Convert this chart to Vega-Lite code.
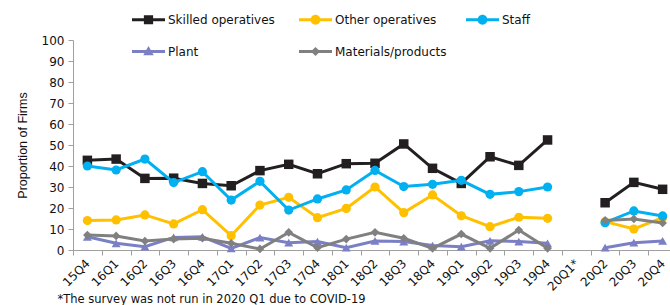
{
  "$schema": "https://vega.github.io/schema/vega-lite/v6.json",
  "width": 597,
  "height": 210,
  "autosize": {"type": "none"},
  "padding": {"left": 73, "top": 40, "right": 0, "bottom": 55},
  "background": "white",
  "config": {
    "view": {"stroke": null},
    "font": "DejaVu Sans",
    "axis": {"grid": false, "domainColor": "#a0a0a0", "tickColor": "#a0a0a0", "domainWidth": 1, "tickWidth": 1, "tickSize": 5, "labelColor": "#111", "labelFont": "DejaVu Sans", "labelFontSize": 12},
    "point": {"filled": true, "opacity": 1}
  },
  "data": {
    "values": [
      {"q": "15Q4", "Skilled operatives": 42.7, "Other operatives": 14.0, "Staff": 40.0, "Plant": 6.3, "Materials/products": 7.1},
      {"q": "16Q1", "Skilled operatives": 43.3, "Other operatives": 14.3, "Staff": 38.1, "Plant": 3.2, "Materials/products": 6.7},
      {"q": "16Q2", "Skilled operatives": 34.1, "Other operatives": 16.7, "Staff": 43.3, "Plant": 1.6, "Materials/products": 4.3},
      {"q": "16Q3", "Skilled operatives": 34.2, "Other operatives": 12.4, "Staff": 32.1, "Plant": 6.0, "Materials/products": 5.2},
      {"q": "16Q4", "Skilled operatives": 31.7, "Other operatives": 19.2, "Staff": 37.3, "Plant": 6.3, "Materials/products": 5.6},
      {"q": "17Q1", "Skilled operatives": 30.6, "Other operatives": 6.8, "Staff": 23.8, "Plant": 0.8, "Materials/products": 3.2},
      {"q": "17Q2", "Skilled operatives": 37.8, "Other operatives": 21.4, "Staff": 32.7, "Plant": 5.9, "Materials/products": 0.5},
      {"q": "17Q3", "Skilled operatives": 40.8, "Other operatives": 25.1, "Staff": 19.0, "Plant": 3.5, "Materials/products": 8.4},
      {"q": "17Q4", "Skilled operatives": 36.3, "Other operatives": 15.4, "Staff": 24.3, "Plant": 4.0, "Materials/products": 1.1},
      {"q": "18Q1", "Skilled operatives": 41.1, "Other operatives": 19.8, "Staff": 28.6, "Plant": 1.1, "Materials/products": 5.2},
      {"q": "18Q2", "Skilled operatives": 41.3, "Other operatives": 30.0, "Staff": 37.9, "Plant": 4.3, "Materials/products": 8.4},
      {"q": "18Q3", "Skilled operatives": 50.5, "Other operatives": 17.8, "Staff": 30.2, "Plant": 4.0, "Materials/products": 5.6},
      {"q": "18Q4", "Skilled operatives": 38.9, "Other operatives": 26.2, "Staff": 31.3, "Plant": 2.1, "Materials/products": 0.8},
      {"q": "19Q1", "Skilled operatives": 31.7, "Other operatives": 16.3, "Staff": 33.2, "Plant": 1.6, "Materials/products": 7.6},
      {"q": "19Q2", "Skilled operatives": 44.4, "Other operatives": 11.1, "Staff": 26.5, "Plant": 4.4, "Materials/products": 0.8},
      {"q": "19Q3", "Skilled operatives": 40.3, "Other operatives": 15.6, "Staff": 27.8, "Plant": 4.0, "Materials/products": 9.5},
      {"q": "19Q4", "Skilled operatives": 52.4, "Other operatives": 15.1, "Staff": 30.0, "Plant": 3.2, "Materials/products": 0.8},
      {"q": "20Q1*", "Skilled operatives": null, "Other operatives": null, "Staff": null, "Plant": null, "Materials/products": null},
      {"q": "20Q2", "Skilled operatives": 22.5, "Other operatives": 13.5, "Staff": 13.0, "Plant": 1.1, "Materials/products": 14.1},
      {"q": "20Q3", "Skilled operatives": 32.2, "Other operatives": 10.0, "Staff": 18.6, "Plant": 3.5, "Materials/products": 14.8},
      {"q": "20Q4", "Skilled operatives": 28.9, "Other operatives": 15.4, "Staff": 16.2, "Plant": 4.3, "Materials/products": 12.9}
    ]
  },
  "transform": [
    {"fold": ["Skilled operatives", "Other operatives", "Staff", "Plant", "Materials/products"], "as": ["series", "value"]}
  ],
  "encoding": {
    "x": {
      "field": "q", "type": "nominal", "sort": null,
      "scale": {
        "type": "band", "range": [0, 604], "paddingInner": 0, "paddingOuter": 0,
        "domain": ["15Q4", "16Q1", "16Q2", "16Q3", "16Q4", "17Q1", "17Q2", "17Q3", "17Q4", "18Q1", "18Q2", "18Q3", "18Q4", "19Q1", "19Q2", "19Q3", "19Q4", "20Q1*", "20Q2", "20Q3", "20Q4"]
      },
      "axis": {
        "labelAngle": -45, "labelAlign": "right", "labelBaseline": "middle", "labelPadding": 6,
        "tickBand": "extent",
        "title": "*The survey was not run in 2020 Q1 due to COVID-19",
        "titleX": -16, "titleY": 52, "titleAlign": "left", "titleAnchor": "start", "titleBaseline": "alphabetic",
        "titleFont": "DejaVu Sans", "titleFontSize": 11.5, "titleFontWeight": "normal", "titleColor": "#111"
      }
    },
    "y": {
      "field": "value", "type": "quantitative",
      "scale": {"domain": [0, 100], "nice": false, "zero": true},
      "axis": {
        "values": [0, 10, 20, 30, 40, 50, 60, 70, 80, 90, 100], "labelPadding": 4,
        "title": "Proportion of Firms", "titleFont": "Liberation Sans", "titleFontSize": 12.5, "titleFontWeight": "normal", "titleColor": "#111", "titlePadding": 12
      }
    }
  },
  "layer": [
    {
      "transform": [{"filter": "datum.series === 'Skilled operatives'"}],
      "layer": [
        {"mark": {"type": "line", "color": "#231f20", "strokeWidth": 3, "invalid": "break-paths-filter-domains"}, "encoding": {}},
        {"mark": {"type": "point", "shape": "square", "color": "#231f20", "size": 90}}
      ]
    },
    {
      "transform": [{"filter": "datum.series === 'Other operatives'"}],
      "layer": [
        {"mark": {"type": "line", "color": "#ffc000", "strokeWidth": 3, "invalid": "break-paths-filter-domains"}, "encoding": {}},
        {"mark": {"type": "point", "shape": "circle", "color": "#ffc000", "size": 85}}
      ]
    },
    {
      "transform": [{"filter": "datum.series === 'Staff'"}],
      "layer": [
        {"mark": {"type": "line", "color": "#00b0f0", "strokeWidth": 3, "invalid": "break-paths-filter-domains"}, "encoding": {}},
        {"mark": {"type": "point", "shape": "circle", "color": "#00b0f0", "size": 85}}
      ]
    },
    {
      "transform": [{"filter": "datum.series === 'Plant'"}],
      "layer": [
        {"mark": {"type": "line", "color": "#7b7fc4", "strokeWidth": 3, "invalid": "break-paths-filter-domains"}, "encoding": {}},
        {"mark": {"type": "point", "shape": "triangle-up", "color": "#7b7fc4", "size": 80}}
      ]
    },
    {
      "transform": [{"filter": "datum.series === 'Materials/products'"}],
      "layer": [
        {"mark": {"type": "line", "color": "#808080", "strokeWidth": 3, "invalid": "break-paths-filter-domains"}, "encoding": {}},
        {"mark": {"type": "point", "shape": "diamond", "color": "#808080", "size": 75}}
      ]
    },
    {
      "transform": [{"filter": "false"}],
      "mark": {"type": "point", "filled": true, "opacity": 1},
      "encoding": {
        "color": {
          "field": "series", "type": "nominal",
          "scale": {"domain": ["Skilled operatives", "Other operatives", "Staff", "Plant", "Materials/products"], "range": ["#231f20", "#ffc000", "#00b0f0", "#7b7fc4", "#808080"]},
          "legend": {
            "title": null, "orient": "none", "legendX": 59, "legendY": -37, "columns": 3, "direction": "horizontal", "gridAlign": "all",
            "columnPadding": 19, "rowPadding": 9, "padding": 0, "offset": 0,
            "symbolSize": 1089, "symbolStrokeWidth": 0, "symbolOpacity": 1, "labelOffset": 3,
            "labelFont": "DejaVu Sans", "labelFontSize": 12, "labelColor": "#111", "labelLimit": 300
          }
        },
        "shape": {
          "field": "series", "type": "nominal",
          "scale": {
            "domain": ["Skilled operatives", "Other operatives", "Staff", "Plant", "Materials/products"],
            "range": [
              "M-1,-0.09H1V0.09H-1Z M-0.28,-0.28H0.28V0.28H-0.28Z",
              "M-1,-0.09H1V0.09H-1Z M-0.3,0A0.3,0.3 0 1,1 0.3,0A0.3,0.3 0 1,1 -0.3,0Z",
              "M-1,-0.09H1V0.09H-1Z M-0.3,0A0.3,0.3 0 1,1 0.3,0A0.3,0.3 0 1,1 -0.3,0Z",
              "M-1,-0.09H1V0.09H-1Z M0,-0.34L0.32,0.22L-0.32,0.22Z",
              "M-1,-0.09H1V0.09H-1Z M0,-0.28L0.28,0L0,0.28L-0.28,0Z"
            ]
          },
          "legend": {
            "title": null, "orient": "none", "legendX": 59, "legendY": -37, "columns": 3, "direction": "horizontal", "gridAlign": "all",
            "columnPadding": 19, "rowPadding": 9, "padding": 0, "offset": 0,
            "symbolSize": 1089, "symbolStrokeWidth": 0, "symbolOpacity": 1, "labelOffset": 3,
            "labelFont": "DejaVu Sans", "labelFontSize": 12, "labelColor": "#111", "labelLimit": 300
          }
        }
      }
    }
  ]
}
